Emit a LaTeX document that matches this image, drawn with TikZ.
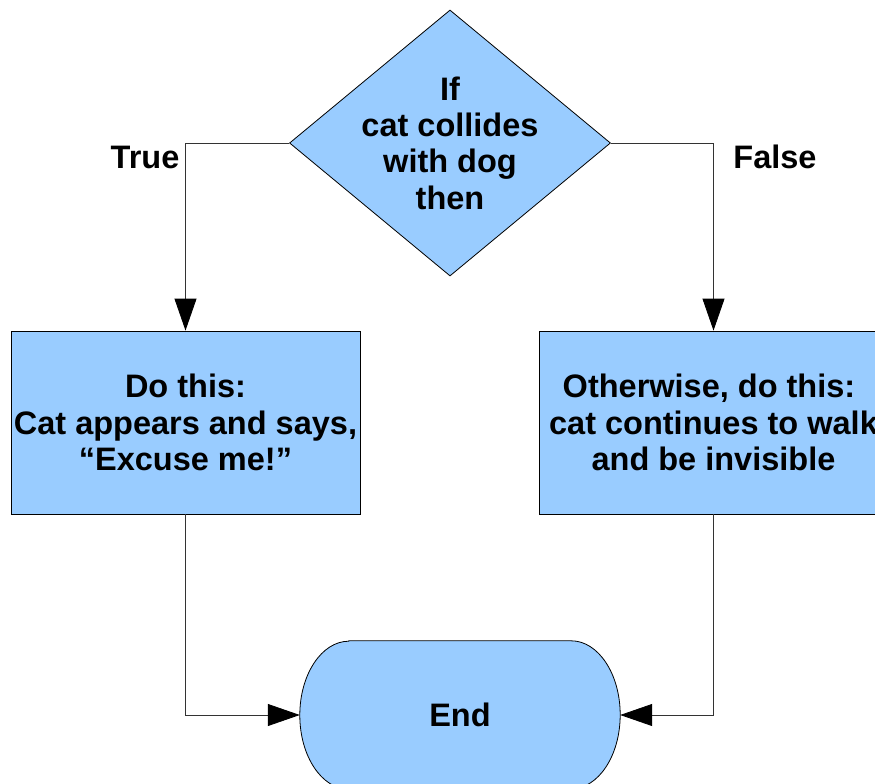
\documentclass[tikz,border=0pt]{standalone}
\usepackage{fontspec}
\setmainfont{Liberation Sans}
\usetikzlibrary{shapes.geometric,arrows.meta}
\definecolor{boxblue}{HTML}{99CCFF}
\begin{document}
\begin{tikzpicture}[x=1pt,y=-1pt,
  txt/.style={font=\fontsize{32.5}{36.3}\selectfont\bfseries, align=center, inner sep=0pt},
  shapebox/.style={draw=black, fill=boxblue, line width=0.8pt},
  conn/.style={draw=black!80, line width=0.8pt},
  arr/.style={conn, -{Triangle[width=22pt,length=32pt,fill=black,color=black]}},
]
\useasboundingbox (0,0) rectangle (875,784);
% decision
\node[diamond, shapebox, minimum width=321pt, minimum height=266pt, inner sep=0pt] (dec) at (450,143) {};
\node[txt] (dectext) at (dec.center) {If\\cat collides\\with dog\\then};
% boxes
\node[rectangle, shapebox, txt, minimum width=349pt, minimum height=183pt] (yes) at (185.5,422.5) {Do this:\\Cat appears and says,\\“Excuse me!”};
\node[rectangle, shapebox, txt, minimum width=349pt, minimum height=183pt] (no) at (713.5,422.5) {Otherwise, do this:~\mbox{}\\cat continues to walk\\and be invisible};
% end terminator
\node[minimum width=320pt, minimum height=148pt, inner sep=0pt] (endn) at (460,715) {};
\path[shapebox] ([xshift=49pt]endn.north west) -- ([xshift=-49pt]endn.north east)
  arc[start angle=90, end angle=-90, x radius=49pt, y radius=74pt]
  -- ([xshift=49pt]endn.south west)
  arc[start angle=270, end angle=90, x radius=49pt, y radius=74pt] -- cycle;
\node[txt] (endtext) at (endn.center) {End};
% labels
\node[txt] (truel) at (145,157) {True};
\node[txt] (falsel) at (775,157) {False};
% connectors
\draw[arr] (dec.west) -| (yes.north);
\draw[arr] (dec.east) -| (no.north);
\draw[arr] (yes.south) |- (endn.west);
\draw[arr] (no.south) |- (endn.east);
\end{tikzpicture}
\end{document}
